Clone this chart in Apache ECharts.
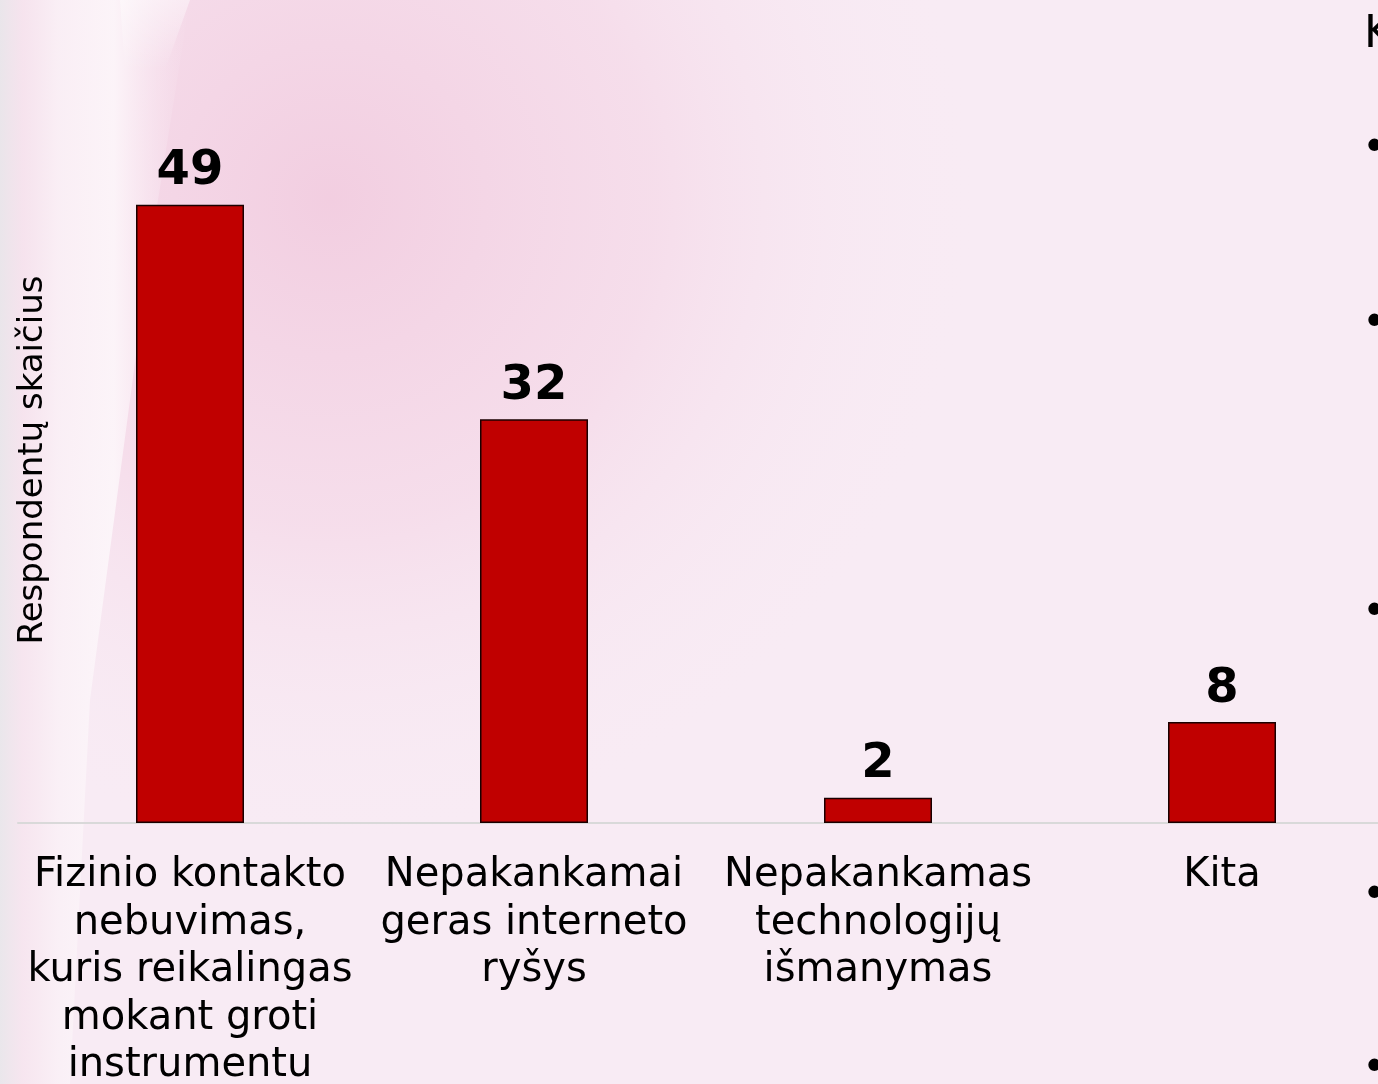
<!DOCTYPE html>
<html>
<head>
<meta charset="utf-8">
<script src="https://cdn.jsdelivr.net/npm/echarts@6/dist/echarts.min.js"></script>
<style>
html, body { margin: 0; padding: 0; }
#chart { width: 1378px; height: 1084px; }
</style>
</head>
<body>
<div id="chart"></div>
<script>
// kategorijos ir reikšmės
const categories = [
    'Fizinio kontakto\nnebuvimas,\nkuris reikalingas\nmokant groti\ninstrumentu',
    'Nepakankamai\ngeras interneto\nryšys',
    'Nepakankamas\ntechnologijų\nišmanymas',
    'Kita'
];
const values = [49, 32, 2, 8];
const yAxisTitle = 'Respondentų skaičius';
const bulletRows = [143, 318, 607, 890, 1063];

const chart = echarts.init(document.getElementById('chart'));

const font = 'DejaVu Sans, Verdana, sans-serif';

// fonas: rožinis su šviesia užuolaida kairėje
const bg = [
    {
        type: 'rect', silent: true, z: -10,
        shape: { x: 0, y: 0, width: 1378, height: 1084 },
        style: { fill: '#f8ebf4' }
    },
    {
        type: 'circle', silent: true, z: -9,
        shape: { cx: 330, cy: 200, r: 650 },
        style: {
            fill: new echarts.graphic.RadialGradient(0.5, 0.5, 0.5, [
                { offset: 0, color: 'rgba(240,196,218,0.75)' },
                { offset: 0.5, color: 'rgba(243,205,224,0.45)' },
                { offset: 1, color: 'rgba(248,235,244,0)' }
            ])
        }
    },
    {
        type: 'polygon', silent: true, z: -8,
        shape: { points: [[20, 0], [190, 0], [150, 250], [90, 700], [70, 1084], [0, 1084], [0, 0]] },
        style: {
            fill: new echarts.graphic.LinearGradient(0, 0, 1, 0, [
                { offset: 0, color: 'rgba(232,230,234,0.9)' },
                { offset: 0.12, color: 'rgba(246,228,238,0.8)' },
                { offset: 0.3, color: 'rgba(250,240,246,0.9)' },
                { offset: 0.6, color: 'rgba(253,248,251,0.85)' },
                { offset: 1, color: 'rgba(248,232,242,0)' }
            ])
        }
    },
    {
        type: 'polygon', silent: true, z: -7,
        shape: { points: [[120, 0], [190, 0], [165, 70], [125, 70]] },
        style: {
            fill: new echarts.graphic.LinearGradient(0, 0, 0, 1, [
                { offset: 0, color: 'rgba(255,255,255,0.45)' },
                { offset: 1, color: 'rgba(255,255,255,0)' }
            ])
        }
    }
];

const sideText = [
    {
        type: 'text', left: 1364, top: 14,
        style: { text: 'K', font: '44px ' + font, fill: '#000' }
    }
].concat(bulletRows.map(y => ({
    type: 'text', left: 1362, top: y - 14,
    style: { text: '•', font: '42px ' + font, fill: '#000' }
})));

chart.setOption({
    backgroundColor: 'transparent',
    animation: false,
    grid: {
        left: 18,
        top: 66,
        bottom: 261,
        width: 1376,
        containLabel: false,
        outerBoundsMode: 'none'
    },
    graphic: bg.concat(sideText, [
        {
            type: 'text',
            x: 16, y: 460,
            rotation: Math.PI / 2,
            style: {
                text: yAxisTitle,
                font: '34px ' + font,
                fill: '#000',
                align: 'center',
                verticalAlign: 'top'
            }
        }
    ]),
    xAxis: {
        type: 'category',
        data: categories,
        axisLine: { show: true, lineStyle: { color: '#d9d9d9', width: 2 } },
        axisTick: { show: false },
        axisLabel: {
            interval: 0,
            margin: 29,
            color: '#000',
            fontFamily: font,
            fontSize: 40,
            lineHeight: 47.5,
            align: 'center'
        }
    },
    yAxis: {
        type: 'value',
        min: 0,
        max: 60,
        show: false,
        splitLine: { show: false }
    },
    series: [
        {
            type: 'bar',
            data: values,
            barWidth: 108,
            itemStyle: {
                color: '#c00000',
                borderColor: '#1a0000',
                borderWidth: 1.5
            },
            label: {
                show: true,
                position: 'top',
                distance: 9,
                color: '#000',
                fontFamily: font,
                fontWeight: 'bold',
                fontSize: 48
            }
        }
    ]
});
</script>
</body>
</html>
